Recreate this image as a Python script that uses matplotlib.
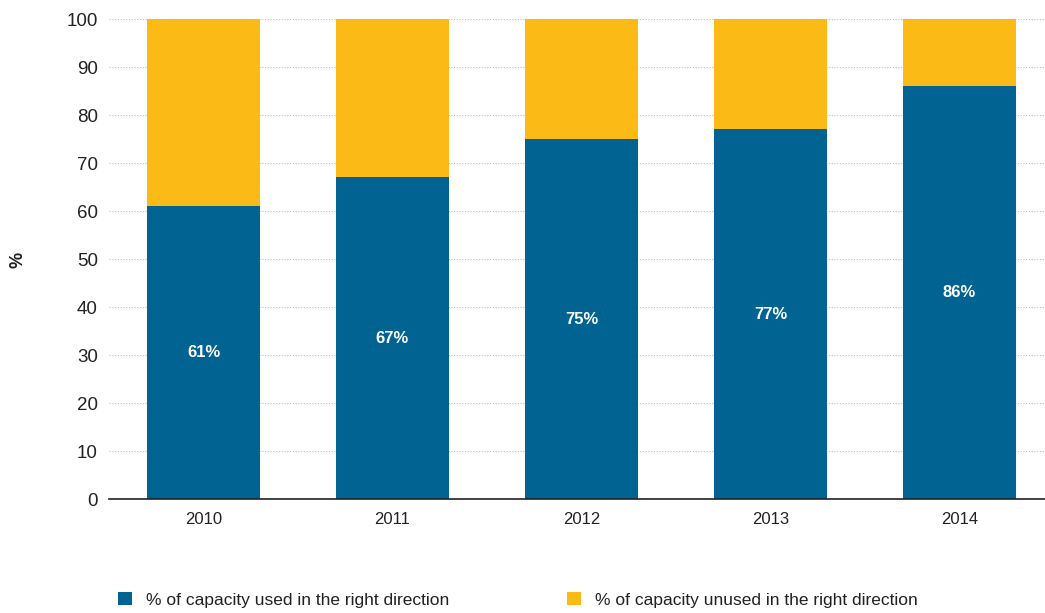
import matplotlib
matplotlib.use("Agg")
import matplotlib.pyplot as plt
from matplotlib import font_manager
import numpy as np

years = ["2010", "2011", "2012", "2013", "2014"]
used = [61, 67, 75, 77, 86]
unused = [39, 33, 25, 23, 14]
labels = ["61%", "67%", "75%", "77%", "86%"]
series_names = ["% of capacity used in the right direction",
                "% of capacity unused in the right direction"]
blue = "#006391"
yellow = "#FBBA16"

names = {f.name for f in font_manager.fontManager.ttflist}
fam = "Liberation Sans Narrow" if "Liberation Sans Narrow" in names else "Liberation Sans"
plt.rcParams["font.family"] = [fam, "DejaVu Sans"]

fig = plt.figure(figsize=(10.45, 6.13), dpi=100)
ax = fig.add_axes([109/1045, 1-499/613, 1-109/1045, 480/613])
x = np.arange(len(years))
w = 0.603
b1 = ax.bar(x, used, w, color=blue, label=series_names[0], zorder=2)
b2 = ax.bar(x, unused, w, bottom=used, color=yellow, label=series_names[1], zorder=2)
for xi, v, lab in zip(x, used, labels):
    ax.text(xi, v/2, lab, ha="center", va="center", color="white",
            fontsize=12, fontweight="bold", zorder=3)

ax.set_ylim(0, 100)
ax.set_xlim(-0.5, (1045-109)/189 - 0.5)
ax.set_yticks(range(0, 101, 10))
ax.set_xticks(x)
ax.set_xticklabels(years, fontsize=12, color="#222222")
ax.tick_params(axis="y", length=0, labelsize=13.5, labelcolor="#222222", pad=8)
ax.tick_params(axis="x", length=0, pad=9)
ax.yaxis.grid(True, linestyle=(0, (1, 1.5)), color="#bbbbbb", linewidth=0.8, zorder=0)
for s in ["top", "right", "left"]:
    ax.spines[s].set_visible(False)
ax.spines["bottom"].set_color("#222222")
ax.spines["bottom"].set_linewidth(1.2)
ax.spines["bottom"].set_zorder(4)
fig.text(18/1045, 1-260/613, "%", rotation=90, ha="center", va="center",
         fontsize=13, fontweight="bold", color="#222222")

leg = fig.legend(handles=[b1, b2], loc="center left",
                 bbox_to_anchor=(118/1045, 1-600/613), borderaxespad=0, borderpad=0,
                 ncol=2, frameon=False, fontsize=12.5, handlelength=0.8, handleheight=0.8,
                 handletextpad=0.8, columnspacing=6.8, labelcolor="#222222")
fig.savefig("out.png", dpi=100)
